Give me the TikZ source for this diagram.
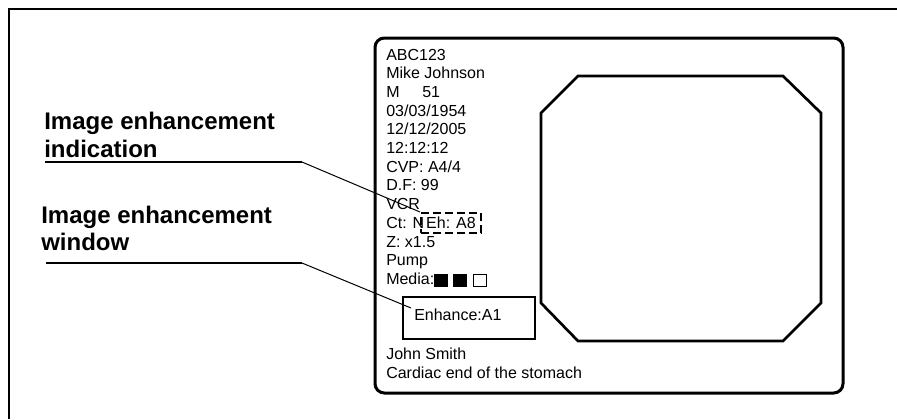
\documentclass[tikz,border=0pt]{standalone}
\usepackage{fontspec}
\setmainfont{Liberation Sans}
\begin{document}
\begin{tikzpicture}[x=0.75pt,y=-0.75pt,
  txt/.style={anchor=base west,inner sep=0pt,font=\fontsize{12}{14}\selectfont},
  lbl/.style={anchor=base west,inner sep=0pt,font=\fontsize{18}{21}\selectfont\bfseries},
  frameline/.style={line width=1.5pt},
  leader/.style={line width=0.75pt},
  underline/.style={line width=1.5pt},
  sqfull/.style={draw,fill=black,line width=0.75pt,minimum width=9.75pt,minimum height=9pt,inner sep=0pt},
  sqempty/.style={draw,fill=white,line width=0.75pt,minimum width=9.75pt,minimum height=9pt,inner sep=0pt}]
\useasboundingbox (0,0) rectangle (897,419);
% outer frame
\draw[frameline] (9,419) -- (9,9) -- (897,9);
% monitor screen
\draw[line width=2.25pt, rounded corners=7pt] (375,38) rectangle (843,393);
% octagonal image area
\draw[line width=2pt, line join=miter] (578,76) -- (783,76) -- (821,113) -- (821,303) -- (783,341) -- (578,341) -- (541,303) -- (541,113) -- cycle;
% text lines
\node[txt] (t1) at (386,60) {ABC123};
\node[txt] (t2) at (386,78.7) {Mike Johnson};
\node[txt] (t3a) at (386,97.4) {M};
\node[txt] (t3b) at (422,97.4) {51};
\node[txt] (t4) at (386,116.1) {03/03/1954};
\node[txt] (t5) at (386,134.8) {12/12/2005};
\node[txt] (t6) at (386,153.5) {12:12:12};
\node[txt] (t7) at (386,172.2) {CVP: A4/4};
\node[txt] (t8) at (386,190.9) {D.F: 99};
\node[txt] (t9) at (386,209.6) {VCR};
\node[txt] (t10) at (386,228.3) {Ct: N};
\node[draw,dashed,dash pattern=on 6pt off 3pt,line width=1.5pt,minimum width=45pt,minimum height=15pt,inner sep=0pt,font=\fontsize{12}{14}\selectfont] (eh) at (451,223) {Eh: A8};
\node[txt] (t11) at (386,247) {Z: x1.5};
\node[txt] (t12) at (386,265.7) {Pump};
\node[txt] (t13) at (386,284.4) {Media:};
\node[sqfull] (sq1) at (440.5,280) {};
\node[sqfull] (sq2) at (459.5,280) {};
\node[sqempty] (sq3) at (479.5,280) {};
% enhancement window
\node[draw,line width=1.5pt,minimum width=99pt,minimum height=31.5pt,inner sep=0pt] (enh) at (469,318) {};
\node[txt] (enht) at (414,320.5) {Enhance:A1};
\node[txt] (t14) at (386,359.5) {John Smith};
\node[txt] (t15) at (386,378.5) {Cardiac end of the stomach};
% labels
\node[lbl] (lab1a) at (44,129) {Image enhancement};
\node[lbl] (lab1b) at (44,157) {indication};
\node[lbl] (lab2a) at (41,223) {Image enhancement};
\node[lbl] (lab2b) at (41,250) {window};
\coordinate (u1s) at (45,162);
\coordinate (u1e) at (302,162);
\coordinate (u2s) at (46,263);
\coordinate (u2e) at (302,263);
\coordinate (w2) at (411,308);
\draw[underline] (u1s) -- (u1e);
\draw[leader] (u1e) -- (eh.north west);
\draw[underline] (u2s) -- (u2e);
\draw[leader] (u2e) -- (w2);
\end{tikzpicture}
\end{document}
